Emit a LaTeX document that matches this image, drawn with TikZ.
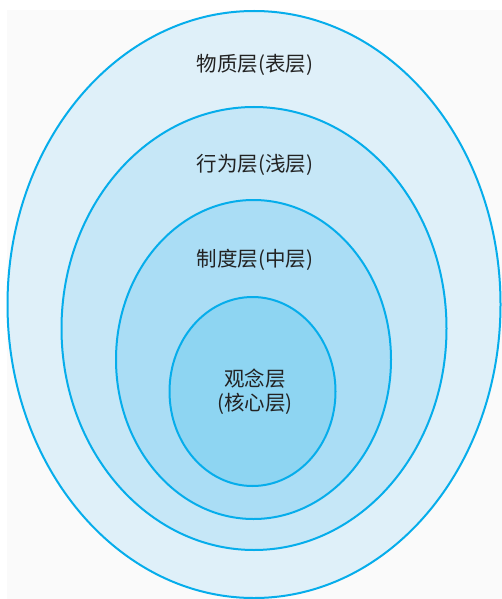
\documentclass[tikz,border=0pt]{standalone}
\usepackage{fontspec}
\newfontfamily\cjk{Noto Sans CJK SC}
\definecolor{ringline}{HTML}{06ADEB}
\definecolor{fillA}{HTML}{DFF0F9}
\definecolor{fillB}{HTML}{C6E7F7}
\definecolor{fillC}{HTML}{AADDF5}
\definecolor{fillD}{HTML}{8ED5F2}
\definecolor{bggray}{HTML}{FAFAFA}
\definecolor{txt}{HTML}{222222}
\begin{document}
\begin{tikzpicture}[x=1pt,y=-1pt,
  ring/.style={draw=ringline,line width=2pt},
  lbl/.style={font=\cjk\fontsize{20.5}{24}\selectfont,text=txt,align=center,inner sep=0pt}]
\useasboundingbox (0,0) rectangle (502,599);
\fill[white] (0,0) rectangle (502,599);
\fill[bggray] (7,10) rectangle (502,599);
\path[ring,fill=fillA] (254,304.5) ellipse [x radius=246.5,y radius=293.5];
\path[ring,fill=fillB] (254,328.5) ellipse [x radius=192.5,y radius=221.5];
\path[ring,fill=fillC] (253.5,359.5) ellipse [x radius=137.5,y radius=159.5];
\path[ring,fill=fillD] (252.5,391.5) ellipse [x radius=83,y radius=94.5];
\node[lbl] (l1) at (255,65) {物质层(表层)};
\node[lbl] (l2) at (255,165) {行为层(浅层)};
\node[lbl] (l3) at (255,260) {制度层(中层)};
\node[lbl] (l4a) at (255,379) {观念层};
\node[lbl] (l4b) at (255,404) {(核心层)};
\end{tikzpicture}
\end{document}
